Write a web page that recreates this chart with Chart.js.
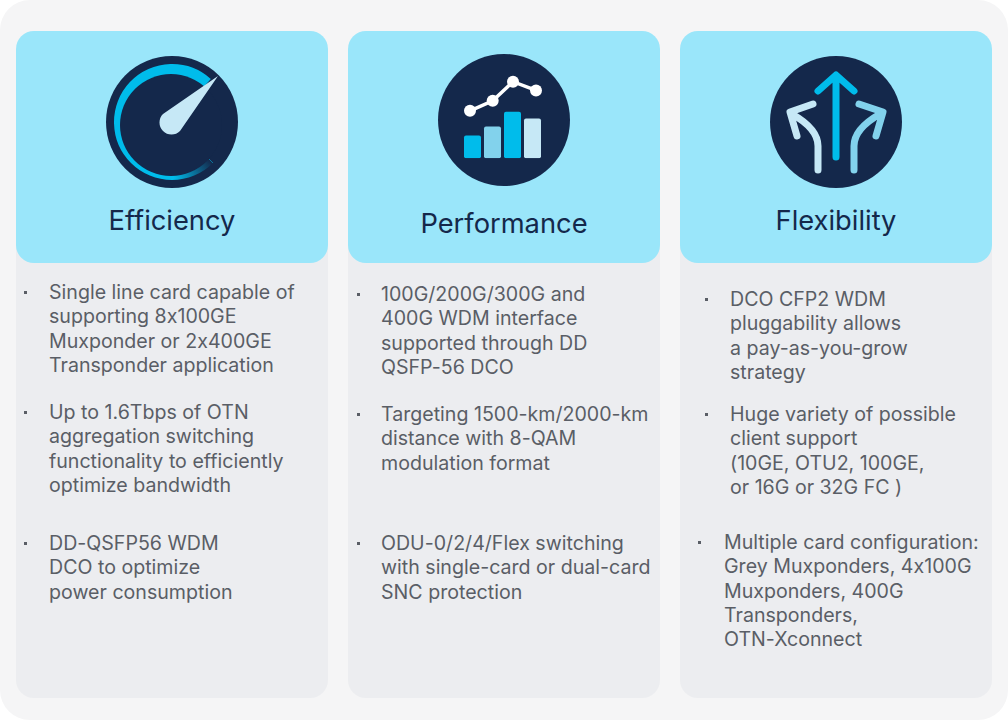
<!DOCTYPE html>
<html>
<head>
<meta charset="utf-8">
<script src="https://cdn.jsdelivr.net/npm/chart.js@4"></script>
<style>
  html, body { margin: 0; width: 1008px; height: 720px; overflow: hidden; background: #fff; }
  body { position: relative; font-family: "Inter", sans-serif; font-feature-settings: "calt" 0; }
  .panel { position: absolute; left: 0; top: 0; width: 1008px; height: 720px; background: #f5f5f6; border-radius: 30px; }
  .body, .head { position: absolute; width: 312px; border-radius: 18px; }
  .body { top: 40px; height: 658px; background: #ecedf0; }
  .head { top: 31px; height: 232px; background: #9ae6fa; }
  .title { position: absolute; width: 312px; text-align: center; font-size: 27.3px; line-height: 32px; color: #14284b; }
  .disc { position: absolute; border-radius: 50%; background: #14284b; }
  .item { position: absolute; font-size: 19.6px; line-height: 24.3px; color: #5a5e66; white-space: nowrap; }
  .dot { position: absolute; width: 3px; height: 3px; background: #5a5e66; }
  canvas { position: absolute; }
  svg { position: absolute; left: 0; top: 0; }
</style>
</head>
<body>
<div class="panel"></div>
<div id="cards"></div>
<canvas id="gauge" width="132" height="132" style="left:106px;top:56px;width:132px;height:132px"></canvas>
<div class="disc" style="left:120px;top:73.7px;width:102.3px;height:102.3px"></div>
<canvas id="perf" width="132" height="132" style="left:438px;top:54px;width:132px;height:132px"></canvas>
<svg width="1008" height="720" fill="none" stroke-linecap="round" stroke-linejoin="round" stroke-width="7">
  <path d="M218 76 L163 114 A11 11 0 0 0 180 131 Z" fill="#c6e8f6" stroke="none"/>
  <path d="M836 157 V76 M818 91 L836 75 L854 91" stroke="#00bceb"/>
  <path d="M818 170 V146 C818 132 806 122 792 114 M813 104 L790 112 L797 136" stroke="#c6e8f6"/>
  <path d="M854 170 V146 C854 132 866 122 880 114 M859 104 L883 112 L876 136" stroke="#82d2ec"/>
</svg>
<script>
const cardNames = ["Efficiency", "Performance", "Flexibility"];
const cardLeft = [16, 348, 680];
const titleTop = [205, 208, 205];
const discCenters = [[172, 122], [504, 120], [836, 122]];

const efficiencyItems = [
  { dot: 24, x: 49, y: 280, lines: ["Single line card capable of", "supporting 8x100GE", "Muxponder or 2x400GE", "Transponder application"] },
  { dot: 24, x: 49, y: 400, lines: ["Up to 1.6Tbps of OTN", "aggregation switching", "functionality to efficiently", "optimize bandwidth"] },
  { dot: 24, x: 49, y: 531, lines: ["DD-QSFP56 WDM", "DCO to optimize", "power consumption"] },
];
const performanceItems = [
  { dot: 357, x: 381, y: 282, lines: ["100G/200G/300G and", "400G WDM interface", "supported through DD", "QSFP-56 DCO"] },
  { dot: 357, x: 381, y: 402, lines: ["Targeting 1500-km/2000-km", "distance with 8-QAM", "modulation format"] },
  { dot: 357, x: 381, y: 531, lines: ["ODU-0/2/4/Flex switching", "with single-card or dual-card", "SNC protection"] },
];
const flexibilityItems = [
  { dot: 705, x: 730, y: 287, lines: ["DCO CFP2 WDM", "pluggability allows", "a pay-as-you-grow", "strategy"] },
  { dot: 705, x: 730, y: 402, lines: ["Huge variety of possible", "client support", "(10GE, OTU2, 100GE,", "or 16G or 32G FC )"] },
  { dot: 698, x: 724, y: 530, lines: ["Multiple card configuration:", "Grey Muxponders, 4x100G", "Muxponders, 400G", "Transponders,", "OTN-Xconnect"] },
];

// gauge sweep in degrees, rest is left empty
const gaugeValues = [267, 93];

// small chart inside the Performance icon
const perfCategories = ["a", "b", "c", "d"];
const perfBars = [22.6, 31.6, 46.3, 39.6];
const perfBarColors = ["#00bceb", "#82d2ec", "#00bceb", "#c6e8f6"];
const perfLineX = [7.5, 30.2, 50.5, 73.5];
const perfLineY = [47.3, 57.3, 76.3, 67.6];

const cards = document.querySelector("#cards");
function addEl(cls, css, text) {
  const el = document.createElement("div");
  el.className = cls;
  el.style.cssText = css;
  if (text) el.innerHTML = text;
  cards.appendChild(el);
}
cardNames.forEach((name, i) => {
  addEl("body", `left:${cardLeft[i]}px`);
  addEl("head", `left:${cardLeft[i]}px`);
  addEl("title", `left:${cardLeft[i]}px;top:${titleTop[i]}px`, name);
  addEl("disc", `left:${discCenters[i][0] - 66}px;top:${discCenters[i][1] - 66}px;width:132px;height:132px`);
});
[efficiencyItems, performanceItems, flexibilityItems].forEach((items) => {
  items.forEach((it) => {
    addEl("dot", `left:${it.dot}px;top:${it.y + 11}px`);
    addEl("item", `left:${it.x}px;top:${it.y}px`, it.lines.join("<br>"));
  });
});

// arc fades into the dial at its thin end
const gaugeCtx = document.querySelector("#gauge").getContext("2d");
const gaugeFill = gaugeCtx.createConicGradient(Math.PI / 4, 66, 66);
gaugeFill.addColorStop(0, "#14284b");
gaugeFill.addColorStop(0.12, "#00bceb");
gaugeFill.addColorStop(1, "#00bceb");

new Chart(gaugeCtx, {
  type: "doughnut",
  data: {
    datasets: [{
      data: gaugeValues,
      backgroundColor: [gaugeFill, "rgba(0,0,0,0)"],
      borderWidth: 0,
    }],
  },
  options: {
    responsive: false,
    animation: false,
    rotation: 135,
    cutout: 0,
    layout: { padding: 8 },
    plugins: { legend: { display: false }, tooltip: { enabled: false } },
  },
});

new Chart(document.querySelector("#perf"), {
  data: {
    labels: perfCategories,
    datasets: [
      {
        type: "line",
        data: perfLineX.map((x, i) => ({ x: x, y: perfLineY[i] })),
        xAxisID: "xLine",
        borderColor: "#fff",
        borderWidth: 3.5,
        pointRadius: 6,
        pointBackgroundColor: "#fff",
        pointBorderWidth: 0,
        clip: false,
        order: 0,
      },
      {
        type: "bar",
        data: perfBars,
        backgroundColor: perfBarColors,
        grouped: false,
        categoryPercentage: 1,
        barPercentage: 0.85,
        borderRadius: 2,
        borderSkipped: false,
        order: 1,
      },
    ],
  },
  options: {
    responsive: false,
    animation: false,
    layout: { padding: { left: 24.5, right: 27.5, top: 24, bottom: 27.7 } },
    plugins: { legend: { display: false }, tooltip: { enabled: false } },
    scales: {
      x: { type: "category", offset: true, display: false },
      xLine: { type: "linear", min: 0, max: 80, display: false },
      y: { min: 0, max: 80, display: false },
    },
  },
});
</script>
</body>
</html>
